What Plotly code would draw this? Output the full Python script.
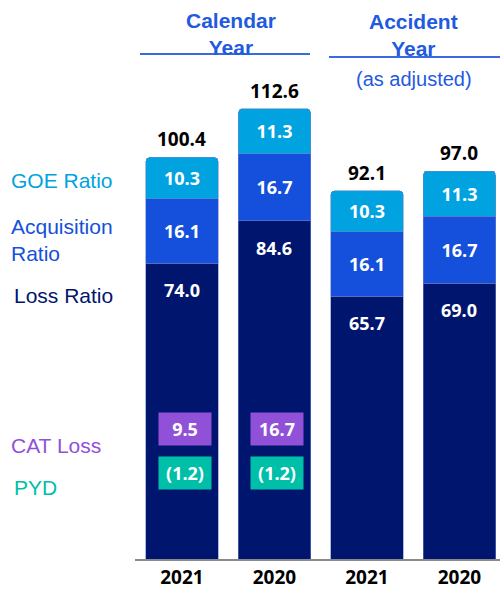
import plotly.graph_objects as go

# ---- data ----
years = ["2021", "2020", "2021", "2020"]
loss_ratio = [74.0, 84.6, 65.7, 69.0]
acq_ratio = [16.1, 16.7, 16.1, 16.7]
goe_ratio = [10.3, 11.3, 10.3, 11.3]
totals = [100.4, 112.6, 92.1, 97.0]
cat_loss = [9.5, 16.7]
pyd = [-1.2, -1.2]

C_LOSS = "#00166E"
C_ACQ = "#1450DC"
C_GOE = "#00A3E0"
C_CAT = "#9150D8"
C_PYD = "#00BFA9"
C_HEAD = "#1F5AE0"

W, H = 500, 590
ML, MB = 135, 31
PW, PH = W - ML, H - MB


def px_x(p):
    return (p - ML) / PW


def px_y(p):
    return (PH - p) / PH


xs = list(range(len(years)))
NUM_FONT = dict(family="Open Sans", size=18, color="white")
edge = dict(width=0.8, color="rgba(110,130,200,0.7)")

fig = go.Figure()
fig.add_trace(go.Bar(x=xs, y=loss_ratio, marker=dict(color=C_LOSS, line=edge),
                     width=0.78, hoverinfo="skip"))
fig.add_trace(go.Bar(x=xs, y=acq_ratio, marker=dict(color=C_ACQ, line=edge),
                     width=0.78, text=[f"<b>{v:.1f}</b>" for v in acq_ratio],
                     textposition="inside", insidetextanchor="middle",
                     textangle=0, textfont=NUM_FONT, hoverinfo="skip"))
fig.add_trace(go.Bar(x=xs, y=goe_ratio, marker=dict(color=C_GOE, line=edge),
                     width=0.78, text=[f"<b>{v:.1f}</b>" for v in goe_ratio],
                     textposition="inside", insidetextanchor="middle",
                     textangle=0, textfont=NUM_FONT, hoverinfo="skip"))

ann = []
# totals above bars
for i, t in enumerate(totals):
    ann.append(dict(x=i, y=t, xref="x", yref="y", text=f"<b>{t:.1f}</b>",
                    showarrow=False, yanchor="bottom", yshift=3,
                    font=dict(family="Open Sans", size=19, color="black")))
# loss ratio labels near top of loss segment
for i, v in enumerate(loss_ratio):
    ann.append(dict(x=i, y=v, xref="x", yref="y", text=f"<b>{v:.1f}</b>",
                    showarrow=False, yanchor="middle", yshift=-27,
                    font=NUM_FONT))
# CAT loss / PYD boxes
for i, v in enumerate(cat_loss):
    ann.append(dict(x=i, y=px_y(446), xref="x", yref="paper", text=f"<b>{v:.1f}</b>",
                    showarrow=False, xshift=3, bgcolor=C_CAT, width=50, height=30,
                    font=NUM_FONT, valign="middle"))
for i, v in enumerate(pyd):
    s = f"({abs(v):.1f})" if v < 0 else f"{v:.1f}"
    ann.append(dict(x=i, y=px_y(490), xref="x", yref="paper", text=f"<b>{s}</b>",
                    showarrow=False, xshift=3, bgcolor=C_PYD, width=50, height=30,
                    font=NUM_FONT, valign="middle"))

# left labels
LBL = "Liberation Sans"
left_labels = [
    ("GOE Ratio", 9, 180, C_GOE),
    ("Acquisition<br>Ratio", 9, 240, C_ACQ),
    ("Loss Ratio", 12, 295, C_LOSS),
    ("CAT Loss", 9, 445, C_CAT),
    ("PYD", 12, 488, C_PYD),
]
for txt, lx, ly, col in left_labels:
    ann.append(dict(x=px_x(lx), y=px_y(ly), xref="paper", yref="paper", text=txt,
                    showarrow=False, xanchor="left", yanchor="middle", align="left",
                    font=dict(family=LBL, size=21, color=col)))

# headers
headers = [
    ("<b>Calendar<br>Year</b>", 231, 34, 21),
    ("<b>Accident<br>Year</b>", 413, 35, 21),
    ("(as adjusted)", 414, 79, 20),
]
for txt, hx, hy, fs in headers:
    ann.append(dict(x=px_x(hx), y=px_y(hy), xref="paper", yref="paper", text=txt,
                    showarrow=False, xanchor="center", yanchor="middle",
                    font=dict(family=LBL, size=fs, color=C_HEAD)))

shapes = [
    dict(type="line", xref="paper", yref="paper", x0=px_x(140), x1=px_x(310),
         y0=px_y(54), y1=px_y(54), line=dict(color="#3A6AE0", width=2)),
    dict(type="line", xref="paper", yref="paper", x0=px_x(329), x1=px_x(500),
         y0=px_y(57), y1=px_y(57), line=dict(color="#3A6AE0", width=2)),
]

fig.update_layout(
    width=W, height=H, barmode="stack", barcornerradius=4,
    margin=dict(l=ML, r=0, t=0, b=MB, autoexpand=False),
    plot_bgcolor="white", paper_bgcolor="white", showlegend=False,
    annotations=ann, shapes=shapes,
    xaxis=dict(range=[-0.508, 3.438], tickvals=xs, ticktext=[f"<b>{y}</b>" for y in years],
               tickfont=dict(family="Open Sans", size=19, color="black"),
               showline=True, linecolor="#8A8A8A", linewidth=2, showgrid=False,
               zeroline=False, ticks="", ticklen=0,
               automargin=False, fixedrange=True),
    yaxis=dict(range=[0, PH / 4.0], visible=False, fixedrange=True, automargin=False),
)

fig.write_html("out.html", config={"displayModeBar": False},
               post_script="document.body.style.margin='0';document.body.style.overflow='hidden';")
